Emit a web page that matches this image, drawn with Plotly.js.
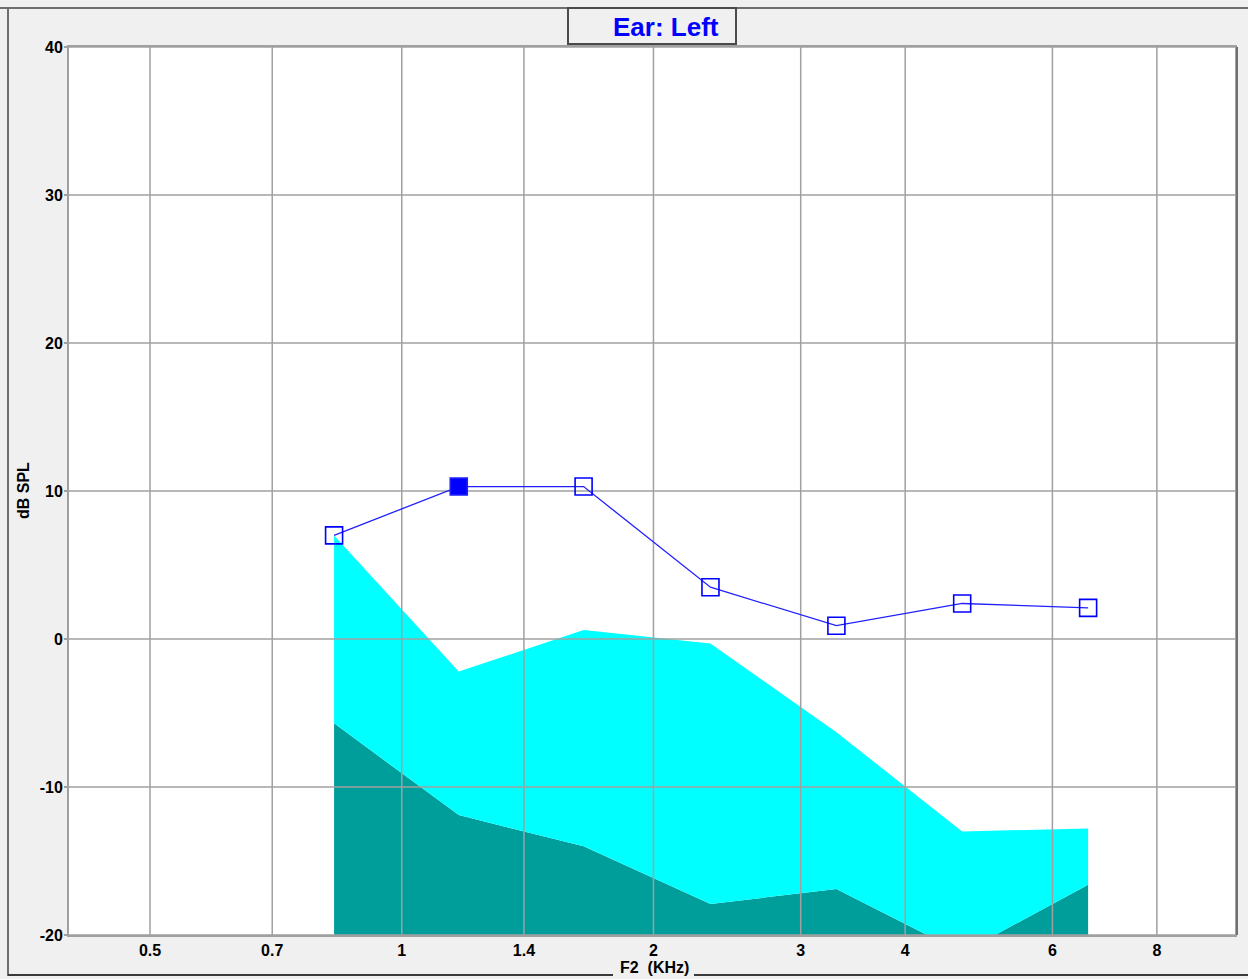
<!DOCTYPE html>
<html><head><meta charset="utf-8">
<script src="https://cdn.plot.ly/plotly-3.0.1.min.js"></script>
<style>html,body{margin:0;padding:0;background:#F0F0F0;}#chart{width:1248px;height:979px;}</style>
</head><body><div id="chart"></div>
<script>
// ---- data ----
const freqKHz = [0.830, 1.17, 1.65, 2.34, 3.31, 4.68, 6.62];
const dpoaeLevel = [7.0, 10.3, 10.3, 3.5, 0.9, 2.4, 2.1];
const measuredFilled = [false, true, false, false, false, false, false];
const normUpper = [7.0, -2.2, 0.6, -0.3, -6.3, -13.0, -12.8];   // cyan boundary
const noiseFloor = [-5.7, -11.9, -14.0, -17.9, -16.9, -21.2, -16.6]; // dark teal boundary
const xTickVals = [0.5, 0.7, 1, 1.4, 2, 3, 4, 6, 8];
const xTickText = ['0.5', '0.7', '1', '1.4', '2', '3', '4', '6', '8'];
const yTickVals = [-20, -10, 0, 10, 20, 30, 40];
const yTickText = ['-20', '-10', '0', '10', '20', '30', '40'];

// ---- layout constants ----
const W = 1248, H = 979, L = 69, R = 1235, T = 47, B = 935;
const xRange = [0.4, 9.92], yRange = [-20, 40];
const px = x => (x - L) / (R - L);
const py = y => (B - y) / (B - T);
const FLOOR = -40;
const FONT = 'Liberation Sans, Arial, sans-serif';

const gridColor = '#A0A0A0';
const vx = [], vy = [], hx = [], hy = [];
xTickVals.forEach(v => { vx.push(v, v, null); vy.push(yRange[0], yRange[1], null); });
yTickVals.forEach(v => { hx.push(xRange[0], xRange[1], null); hy.push(v, v, null); });

const traces = [
  {x: freqKHz, y: freqKHz.map(() => FLOOR), mode: 'lines', line: {width: 0, color: 'rgba(0,0,0,0)'}, hoverinfo: 'skip', showlegend: false},
  {x: freqKHz, y: noiseFloor, mode: 'lines', fill: 'tonexty', fillcolor: '#009E9A', line: {width: 0, color: '#009E9A'}, hoverinfo: 'skip', showlegend: false},
  {x: freqKHz, y: normUpper, mode: 'lines', fill: 'tonexty', fillcolor: '#00FFFF', line: {width: 0, color: '#00FFFF'}, hoverinfo: 'skip', showlegend: false},
  {x: vx, y: vy, mode: 'lines', line: {color: gridColor, width: 1.5}, hoverinfo: 'skip', showlegend: false, connectgaps: false},
  {x: hx, y: hy, mode: 'lines', line: {color: gridColor, width: 1.5}, hoverinfo: 'skip', showlegend: false, connectgaps: false},
  {x: freqKHz, y: dpoaeLevel, mode: 'lines+markers', showlegend: false,
   line: {color: '#2020FF', width: 1.3},
   marker: {symbol: measuredFilled.map(f => f ? 'square' : 'square-open'), size: 17,
            color: '#0000FF', line: {color: '#2020FF', width: 1.6}}}
];

const layout = {
  width: W, height: H,
  margin: {l: L, r: W - R, t: T, b: H - B, pad: 0},
  paper_bgcolor: '#F0F0F0', plot_bgcolor: '#FFFFFF',
  font: {family: FONT, size: 16, color: '#000'},
  xaxis: {type: 'log', range: [Math.log10(xRange[0]), Math.log10(xRange[1])],
          tickvals: xTickVals, ticktext: xTickText, showgrid: false, zeroline: false,
          showline: true, linecolor: gridColor, linewidth: 2, mirror: true, ticks: '',
          tickfont: {family: FONT, size: 16, color: '#000', weight: 'bold'}},
  yaxis: {range: yRange, tickvals: yTickVals, ticktext: yTickText, showgrid: false, zeroline: false,
          showline: true, linecolor: gridColor, linewidth: 2, mirror: true,
          ticks: 'outside', ticklen: 3, tickcolor: gridColor, tickwidth: 1.5, ticklabelstandoff: -2,
          tickfont: {family: FONT, size: 16, color: '#000', weight: 'bold'}},
  shapes: [
    // outer frame
    {type: 'line', xref: 'paper', yref: 'paper', x0: px(0), x1: px(W), y0: py(8), y1: py(8), line: {color: '#6E6E6E', width: 2}},
    {type: 'line', xref: 'paper', yref: 'paper', x0: px(8), x1: px(8), y0: py(8), y1: py(976), line: {color: '#6E6E6E', width: 2}},
    {type: 'line', xref: 'paper', yref: 'paper', x0: px(8), x1: px(613), y0: py(975), y1: py(975), line: {color: '#3A3A3A', width: 2}},
    {type: 'line', xref: 'paper', yref: 'paper', x0: px(694), x1: px(W), y0: py(975), y1: py(975), line: {color: '#3A3A3A', width: 2}},
    // plot right shadow
    {type: 'line', xref: 'paper', yref: 'paper', x0: px(1237), x1: px(1237), y0: py(T), y1: py(B), line: {color: '#707070', width: 2}},
    // title box
    {type: 'rect', xref: 'paper', yref: 'paper', x0: px(568), x1: px(736), y0: py(8), y1: py(44), fillcolor: '#F0F0F0', line: {color: '#4A4A4A', width: 2}}
  ],
  annotations: [
    {text: 'Ear: Left', xref: 'paper', yref: 'paper', x: px(666), y: py(27), xanchor: 'center', yanchor: 'middle', showarrow: false,
     font: {family: FONT, size: 26, color: '#0000FF', weight: 'bold'}},
    {text: 'dB SPL', xref: 'paper', yref: 'paper', x: px(23), y: py(491), textangle: -90, xanchor: 'center', yanchor: 'middle', showarrow: false,
     font: {family: FONT, size: 16, color: '#000', weight: 'bold'}},
    {text: 'F2&nbsp;&nbsp;(KHz)', xref: 'paper', yref: 'paper', x: px(654), y: py(967), xanchor: 'center', yanchor: 'middle', showarrow: false,
     font: {family: FONT, size: 16, color: '#000', weight: 'bold'}}
  ]
};

Plotly.newPlot('chart', traces, layout, {displayModeBar: false, staticPlot: true});
</script></body></html>
